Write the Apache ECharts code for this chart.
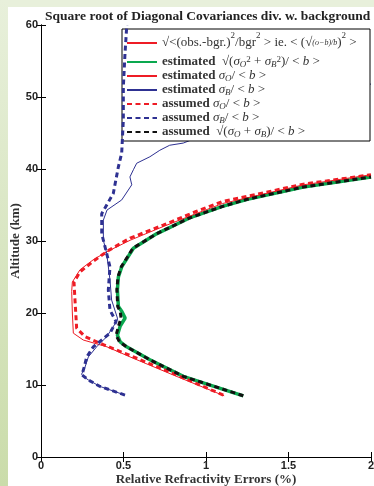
<!DOCTYPE html>
<html><head><meta charset="utf-8">
<script src="https://cdn.jsdelivr.net/npm/echarts@6/dist/echarts.min.js"></script>
<style>html,body{margin:0;padding:0;background:#fff}#c{width:374px;height:486px}</style>
</head><body><div id="c"></div>
<script>
// ---- data (altitude in km, relative error in %) ----
const xTicks = [0, 0.5, 1, 1.5, 2];
const yTicks = [0, 10, 20, 30, 40, 50, 60];

const obsAlt = [];
const obsVal = [];

const estTotAlt = [8.5, 11.2, 13.5, 15.3, 16.0, 16.9, 18.2, 19.3, 20.2, 20.9, 23.2, 25.0, 26.4, 29.0, 31.0, 33.2, 34.8, 35.8, 37.5, 38.9];
const estTotVal = [1.226, 0.862, 0.66, 0.519, 0.48, 0.463, 0.48, 0.51, 0.49, 0.469, 0.463, 0.469, 0.489, 0.56, 0.70, 0.90, 1.10, 1.25, 1.59, 2.0];

const estOAlt = [8.5, 11.4, 13.9, 15.3, 16.25, 17.2, 20.0, 23.0, 24.3, 26.0, 27.4, 28.5, 30.1, 32.0, 33.8, 35.2, 36.0, 37.8, 39.2];
const estOVal = [1.11, 0.80, 0.54, 0.40, 0.256, 0.196, 0.19, 0.186, 0.19, 0.236, 0.317, 0.398, 0.54, 0.74, 0.94, 1.10, 1.25, 1.59, 2.0];

const estBAlt = [8.6, 9.8, 10.7, 11.2, 11.5, 12.5, 13.9, 15.3, 16.7, 19.0, 19.3, 21.8, 24.6, 28.3, 30.1, 32.9, 34.3, 35.7, 37.8, 38.9, 39.9, 40.8, 41.7, 42.6, 43.3, 43.6, 45.6, 46.6, 47.7, 48.6, 49.4, 50.4, 51.1, 51.8];
const estBVal = [0.509, 0.358, 0.287, 0.256, 0.246, 0.267, 0.287, 0.337, 0.398, 0.463, 0.463, 0.428, 0.418, 0.398, 0.378, 0.378, 0.40, 0.489, 0.55, 0.539, 0.56, 0.58, 0.66, 0.72, 0.78, 0.862, 1.085, 1.368, 1.47, 1.69, 1.71, 1.824, 1.794, 2.0];

const assOAlt = [8.6, 11.6, 14.1, 15.6, 16.7, 17.9, 21.8, 24.3, 25.7, 27.2, 28.7, 30.4, 32.2, 34.1, 35.5, 36.2, 37.9, 39.2];
const assOVal = [1.105, 0.80, 0.54, 0.378, 0.267, 0.216, 0.206, 0.20, 0.236, 0.317, 0.41, 0.54, 0.74, 0.94, 1.10, 1.25, 1.59, 2.0];

const assBAlt = [8.6, 9.8, 10.7, 11.4, 12.5, 13.9, 15.3, 17.2, 18.8, 20.4, 23.2, 26.4, 29.2, 31.0, 33.8, 36.6, 40.3, 42.2, 46.8, 51.4, 56.0, 60.0];
const assBVal = [0.509, 0.358, 0.287, 0.248, 0.262, 0.277, 0.317, 0.418, 0.455, 0.418, 0.408, 0.418, 0.388, 0.368, 0.368, 0.438, 0.469, 0.489, 0.499, 0.499, 0.509, 0.52];

const assTotAlt = [8.5, 11.2, 13.5, 15.3, 16.0, 16.9, 18.2, 19.3, 20.2, 20.9, 23.2, 25.0, 26.4, 29.0, 31.0, 33.2, 34.8, 35.8, 37.5, 38.9];
const assTotVal = [1.226, 0.862, 0.66, 0.519, 0.475, 0.455, 0.47, 0.485, 0.48, 0.465, 0.46, 0.466, 0.486, 0.557, 0.70, 0.90, 1.10, 1.25, 1.59, 2.0];

const names = ['obs', 'estTot', 'estO', 'estB', 'assO', 'assB', 'assTot'];

function pairs(a, v) { return a.map((h, i) => [v[i], h]); }

const legendRich = {
  obs: '{r|√<(obs.-bgr.)}{sup|2}{r|/bgr}{sup|2}{r| > ie. < (√}{fr|(o−b)/b}{r|)}{sup|2}{r| >}',
  estTot: '{b|estimated} {r| √(}{m|σ}{sub|O}{sup|2}{r| + }{m|σ}{sub|B}{sup|2}{r|)/ < }{m|b}{r| >}',
  estO: '{b|estimated} {m|σ}{sub|O}{r|/ < }{m|b}{r| >}',
  estB: '{b|estimated} {m|σ}{sub|B}{r|/ < }{m|b}{r| >}',
  assO: '{b|assumed} {m|σ}{sub|O}{r|/ < }{m|b}{r| >}',
  assB: '{b|assumed} {m|σ}{sub|B}{r|/ < }{m|b}{r| >}',
  assTot: '{b|assumed} {r| √(}{m|σ}{sub|O}{r| + }{m|σ}{sub|B}{r|)/ < }{m|b}{r| >}'
};

const SERIF = '"Liberation Serif", "DejaVu Serif", serif';
const RED = '#ee1c25', GREEN = '#0aa84f', BLUE = '#2e3192', BLACK = '#111';

const chart = echarts.init(document.getElementById('c'), null, { renderer: 'canvas' });

function line(name, data, color, width, dashed, z) {
  return {
    name, type: 'line', data, symbol: 'none', smooth: false, z: z || 2,
    xAxisIndex: 0, yAxisIndex: 0, animation: false,
    lineStyle: { color, width, type: dashed ? [5, 3.5] : 'solid', cap: 'butt' },
    itemStyle: { color }
  };
}

const axisCommon = {
  axisLine: { show: true, lineStyle: { color: '#000', width: 1 } },
  axisTick: { show: true, inside: true, length: 5, lineStyle: { color: '#000' } },
  splitLine: { show: false }
};

chart.setOption({
  backgroundColor: '#fff',
  animation: false,
  graphic: [
    { type: 'rect', shape: { x: 0, y: 0, width: 374, height: 7 }, style: { fill: '#e8f0db' }, z: -10, silent: true },
    { type: 'rect', shape: { x: 0, y: 0, width: 8, height: 486 }, z: -10, silent: true,
      style: { fill: new echarts.graphic.LinearGradient(0, 0, 0, 1, [{ offset: 0, color: '#e8f0db' }, { offset: 1, color: '#cadcaa' }]) } }
  ],
  title: {
    text: 'Square root of Diagonal Covariances div. w. background',
    left: 40, top: 5,
    textStyle: { fontFamily: SERIF, fontWeight: 'bold', fontSize: 13.5, color: '#222' }
  },
  grid: { left: 41, right: 3, top: 25, bottom: 29, containLabel: false, outerBoundsMode: 'none' },
  legend: {
    data: names, orient: 'vertical', left: 122, top: 29,
    itemWidth: 30, itemHeight: 14, itemGap: 0, padding: [2, 3, 2, 4],
    backgroundColor: '#fff', borderColor: '#000', borderWidth: 1, z: 5,
    itemStyle: { opacity: 0 },
    formatter: n => legendRich[n],
    textStyle: {
      width: 205, fontFamily: SERIF, fontSize: 13, color: '#333', lineHeight: 14,
      rich: {
        r: { fontFamily: SERIF, fontSize: 13, color: '#333', lineHeight: 14 },
        b: { fontFamily: SERIF, fontSize: 13, fontWeight: 'bold', color: '#333', lineHeight: 14 },
        m: { fontFamily: SERIF, fontSize: 13, fontStyle: 'italic', color: '#333', lineHeight: 14 },
        sub: { fontFamily: SERIF, fontSize: 9, fontStyle: 'italic', color: '#333', verticalAlign: 'bottom', lineHeight: 14 },
        sup: { fontFamily: SERIF, fontSize: 9, color: '#333', verticalAlign: 'top', lineHeight: 14 },
        fr: { fontFamily: SERIF, fontSize: 8, fontStyle: 'italic', color: '#333', lineHeight: 24 }
      }
    }
  },
  xAxis: [
    Object.assign({
      type: 'value', min: 0, max: 2, interval: 0.5, position: 'bottom',
      axisLabel: { show: true, margin: 3, fontFamily: '"Liberation Sans", Arial, sans-serif', fontWeight: 'bold', fontSize: 11, color: '#222',
        formatter: v => xTicks.includes(v) ? String(v) : '' },
      name: 'Relative Refractivity Errors (%)', nameLocation: 'middle', nameGap: 16, nameMoveOverlap: false,
      nameTextStyle: { fontFamily: SERIF, fontWeight: 'bold', fontSize: 13, color: '#333' }
    }, axisCommon),
    Object.assign({ type: 'value', min: 0, max: 2, interval: 0.5, position: 'top', axisLabel: { show: false } }, axisCommon)
  ],
  yAxis: [
    Object.assign({
      type: 'value', min: 0, max: 60, interval: 10, position: 'left',
      axisLabel: { show: true, margin: 3, fontFamily: '"Liberation Sans", Arial, sans-serif', fontWeight: 'bold', fontSize: 11, color: '#222',
        formatter: v => yTicks.includes(v) ? String(v) : '' },
      name: 'Altitude (km)', nameLocation: 'middle', nameGap: 19, nameRotate: 90, nameMoveOverlap: false,
      nameTextStyle: { fontFamily: SERIF, fontWeight: 'bold', fontSize: 13, color: '#333' }
    }, axisCommon),
    Object.assign({ type: 'value', min: 0, max: 60, interval: 10, position: 'right', axisLabel: { show: false } }, axisCommon)
  ],
  series: [
    line('obs', pairs(obsAlt, obsVal), RED, 3.5, false, 2),
    line('estTot', pairs(estTotAlt, estTotVal), GREEN, 3.5, false, 2),
    line('estO', pairs(estOAlt, estOVal), RED, 1, false, 3),
    line('estB', pairs(estBAlt, estBVal), BLUE, 1, false, 3),
    line('assO', pairs(assOAlt, assOVal), RED, 3, true, 4),
    line('assB', pairs(assBAlt, assBVal), BLUE, 3, true, 6),
    line('assTot', pairs(assTotAlt, assTotVal), BLACK, 3, true, 4)
  ]
});
</script></body></html>
